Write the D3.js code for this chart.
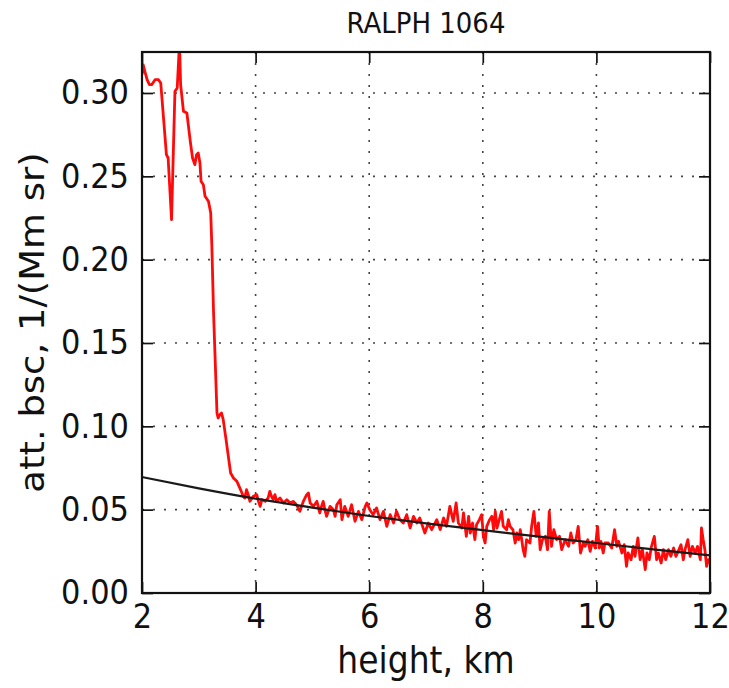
<!DOCTYPE html>
<html><head><meta charset="utf-8">
<script src="https://cdn.jsdelivr.net/npm/d3@7"></script>
<style>body{margin:0;background:#fff} svg{display:block} text{font-family:"DejaVu Sans",sans-serif;fill:#111}</style>
</head><body><svg id="c" width="729" height="688"></svg>
<script>
const title = "RALPH 1064";
const xLabel = "height, km";
const yLabel = "att. bsc, 1/(Mm sr)";
const xTicks = [2, 4, 6, 8, 10, 12];
const yTicks = [0, 0.05, 0.10, 0.15, 0.20, 0.25, 0.30];

const redHeights = [
 2.00,2.02,2.05,2.09,2.13,2.17,2.23,2.29,2.33,2.43,2.46,2.52,2.58,2.62,2.66,2.68,2.73,2.79,2.85,2.89,
 2.93,2.96,2.99,3.02,3.04,3.08,3.11,3.17,3.21,3.23,3.26,3.29,3.32,3.34,3.37,3.40,3.43,3.48,3.52,3.56,
 3.61,3.67,3.71,3.76,3.78,3.81,3.84,3.87,3.90,3.96,4.02,4.05,4.08,4.11,4.17,4.22,4.25,4.28,4.31,4.34,
 4.37,4.43,4.49,4.55,4.61,4.66,4.72,4.78,4.84,4.90,4.93,4.96,5.02,5.08,5.13,5.16,5.19,5.22,5.25,5.31,
 5.37,5.40,5.43,5.49,5.52,5.57,5.63,5.69,5.75,5.81,5.87,5.93,5.96,6.01,6.07,6.13,6.19,6.25,6.31,6.37,
 6.43,6.48,6.54,6.60,6.66,6.72,6.78,6.84,6.89,6.98,7.04,7.10,7.19,7.25,7.31,7.36,7.42,7.48,7.53,7.57,
 7.63,7.66,7.71,7.75,7.78,7.82,7.86,7.89,7.94,7.98,8.01,8.04,8.07,8.12,8.16,8.19,8.22,8.25,8.29,8.33,
 8.36,8.42,8.45,8.48,8.53,8.57,8.60,8.63,8.66,8.71,8.74,8.77,8.83,8.86,8.90,8.94,8.98,9.01,9.05,9.10,
 9.14,9.17,9.21,9.25,9.30,9.35,9.39,9.45,9.51,9.55,9.59,9.64,9.68,9.72,9.77,9.80,9.85,9.89,9.93,9.98,
 10.02,10.05,10.08,10.12,10.15,10.21,10.27,10.32,10.36,10.39,10.45,10.49,10.53,10.56,10.61,10.65,10.68,10.73,10.77,10.81,
 10.86,10.89,10.93,10.97,11.02,11.06,11.09,11.14,11.18,11.22,11.27,11.31,11.36,11.40,11.44,11.49,11.53,11.56,11.61,11.65,
 11.69,11.74,11.78,11.83,11.85,11.88,11.91,11.94,11.97,12.00
];
const redValues = [
 0.311,0.317,0.313,0.308,0.305,0.305,0.308,0.308,0.306,0.263,0.261,0.224,0.301,0.303,0.330,0.305,0.289,0.288,0.271,0.261,
 0.257,0.263,0.264,0.258,0.247,0.245,0.238,0.235,0.228,0.208,0.168,0.138,0.108,0.105,0.107,0.108,0.104,0.092,0.082,0.072,
 0.069,0.067,0.064,0.060,0.058,0.057,0.062,0.059,0.055,0.058,0.059,0.055,0.052,0.056,0.055,0.057,0.061,0.058,0.056,0.059,
 0.055,0.057,0.054,0.056,0.054,0.055,0.053,0.049,0.055,0.059,0.060,0.054,0.052,0.055,0.048,0.052,0.055,0.050,0.046,0.052,
 0.050,0.046,0.053,0.056,0.044,0.052,0.046,0.053,0.043,0.049,0.044,0.052,0.054,0.050,0.047,0.051,0.044,0.049,0.040,0.047,
 0.042,0.049,0.044,0.042,0.047,0.039,0.046,0.042,0.045,0.036,0.042,0.038,0.044,0.038,0.045,0.040,0.052,0.043,0.054,0.042,
 0.039,0.048,0.034,0.046,0.036,0.042,0.032,0.041,0.044,0.047,0.034,0.030,0.040,0.044,0.046,0.038,0.049,0.039,0.044,0.049,
 0.040,0.038,0.044,0.040,0.038,0.030,0.036,0.032,0.038,0.026,0.022,0.032,0.030,0.040,0.049,0.034,0.042,0.026,0.032,0.034,
 0.026,0.049,0.028,0.038,0.032,0.034,0.026,0.032,0.028,0.036,0.030,0.032,0.040,0.024,0.030,0.028,0.032,0.025,0.031,0.027,
 0.040,0.027,0.031,0.024,0.030,0.030,0.027,0.038,0.028,0.031,0.024,0.029,0.016,0.024,0.020,0.028,0.022,0.033,0.020,0.026,
 0.014,0.024,0.020,0.028,0.034,0.020,0.024,0.018,0.026,0.020,0.026,0.022,0.027,0.022,0.025,0.029,0.020,0.026,0.032,0.022,
 0.028,0.024,0.028,0.020,0.039,0.032,0.026,0.016,0.020,0.018
];

const fitHeights = [2, 3, 4, 5, 6, 7, 8, 9, 10, 11, 12];
const fitValues = [0.0696, 0.0628, 0.0566, 0.0512, 0.0462, 0.0418, 0.0377, 0.0338, 0.0300, 0.0262, 0.0226];

const SY = 1.12; // vertical stretch of the text in the reference
const L = 142, R = 710, T = 52, B = 593;
const svg = d3.select("#c");
const x = d3.scaleLinear().domain([2, 12]).range([L, R]);
const y = d3.scaleLinear().domain([0, 0.3246]).range([B, T]);

// grid
const grid = svg.append("g").attr("stroke", "#444").attr("stroke-width", 1.6).attr("stroke-dasharray", "2,9");
grid.selectAll("line.gx").data(xTicks.filter(d => d > 2 && d < 12)).join("line")
  .attr("x1", d => x(d)).attr("x2", d => x(d)).attr("y1", B).attr("y2", T);
grid.selectAll("line.gy").data(yTicks.filter(d => d > 0)).join("line")
  .attr("x1", L).attr("x2", R).attr("y1", d => y(d)).attr("y2", d => y(d));

// clip
svg.append("clipPath").attr("id", "clip").append("rect")
  .attr("x", L).attr("y", T).attr("width", R - L).attr("height", B - T);

const plot = svg.append("g").attr("clip-path", "url(#clip)");
const redLine = d3.line().x((d, i) => x(redHeights[i])).y((d, i) => y(redValues[i]));
plot.append("path").datum(redValues).attr("d", redLine)
  .attr("fill", "none").attr("stroke", "#ff0a0a").attr("stroke-width", 2.8).attr("stroke-linejoin", "round");
const fitLine = d3.line().x((d, i) => x(fitHeights[i])).y((d, i) => y(fitValues[i])).curve(d3.curveMonotoneX);
plot.append("path").datum(fitValues).attr("d", fitLine)
  .attr("fill", "none").attr("stroke", "#1a1a1a").attr("stroke-width", 2.2);

// axes
const fontTick = 30.5;
const axB = svg.append("g").attr("transform", `translate(0,${B})`)
  .call(d3.axisBottom(x).tickValues(xTicks).tickFormat(d3.format("d")).tickSizeInner(-11).tickSizeOuter(0).tickPadding(11));
const axL = svg.append("g").attr("transform", `translate(${L},0)`)
  .call(d3.axisLeft(y).tickValues(yTicks).tickFormat(d3.format(".2f")).tickSizeInner(-11).tickSizeOuter(0).tickPadding(13));
const axT = svg.append("g").attr("transform", `translate(0,${T})`)
  .call(d3.axisTop(x).tickValues(xTicks).tickFormat("").tickSizeInner(-11).tickSizeOuter(0));
const axR = svg.append("g").attr("transform", `translate(${R},0)`)
  .call(d3.axisRight(y).tickValues(yTicks).tickFormat("").tickSizeInner(-11).tickSizeOuter(0));
[axB, axL, axT, axR].forEach(a => {
  a.select(".domain").remove();
  a.selectAll(".tick line").attr("stroke", "#111").attr("stroke-width", 1.7);
  a.selectAll("text").attr("font-size", fontTick).attr("font-family", "DejaVu Sans").attr("fill", "#111");
});
[axB, axL].forEach(a => a.selectAll("text").each(function () {
  const t = d3.select(this);
  const yy = +t.attr("y") || 0;
  t.attr("y", yy / SY).attr("transform", `scale(1,${SY})`);
}));

// frame
svg.append("rect").attr("x", L).attr("y", T).attr("width", R - L).attr("height", B - T)
  .attr("fill", "none").attr("stroke", "#111").attr("stroke-width", 2.2);

// title and labels
svg.append("g").attr("transform", `translate(${(L + R) / 2},33) scale(1,${SY})`)
  .append("text").attr("text-anchor", "middle").attr("font-size", 26).text(title);
svg.append("g").attr("transform", `translate(${(L + R) / 2},673) scale(1,${SY})`)
  .append("text").attr("text-anchor", "middle").attr("font-size", 33).text(xLabel);
svg.append("g").attr("transform", `translate(44,${(T + B) / 2}) scale(1,${SY}) rotate(-90)`)
  .append("text").attr("text-anchor", "middle").attr("font-size", 33).text(yLabel);
</script>
</body></html>
